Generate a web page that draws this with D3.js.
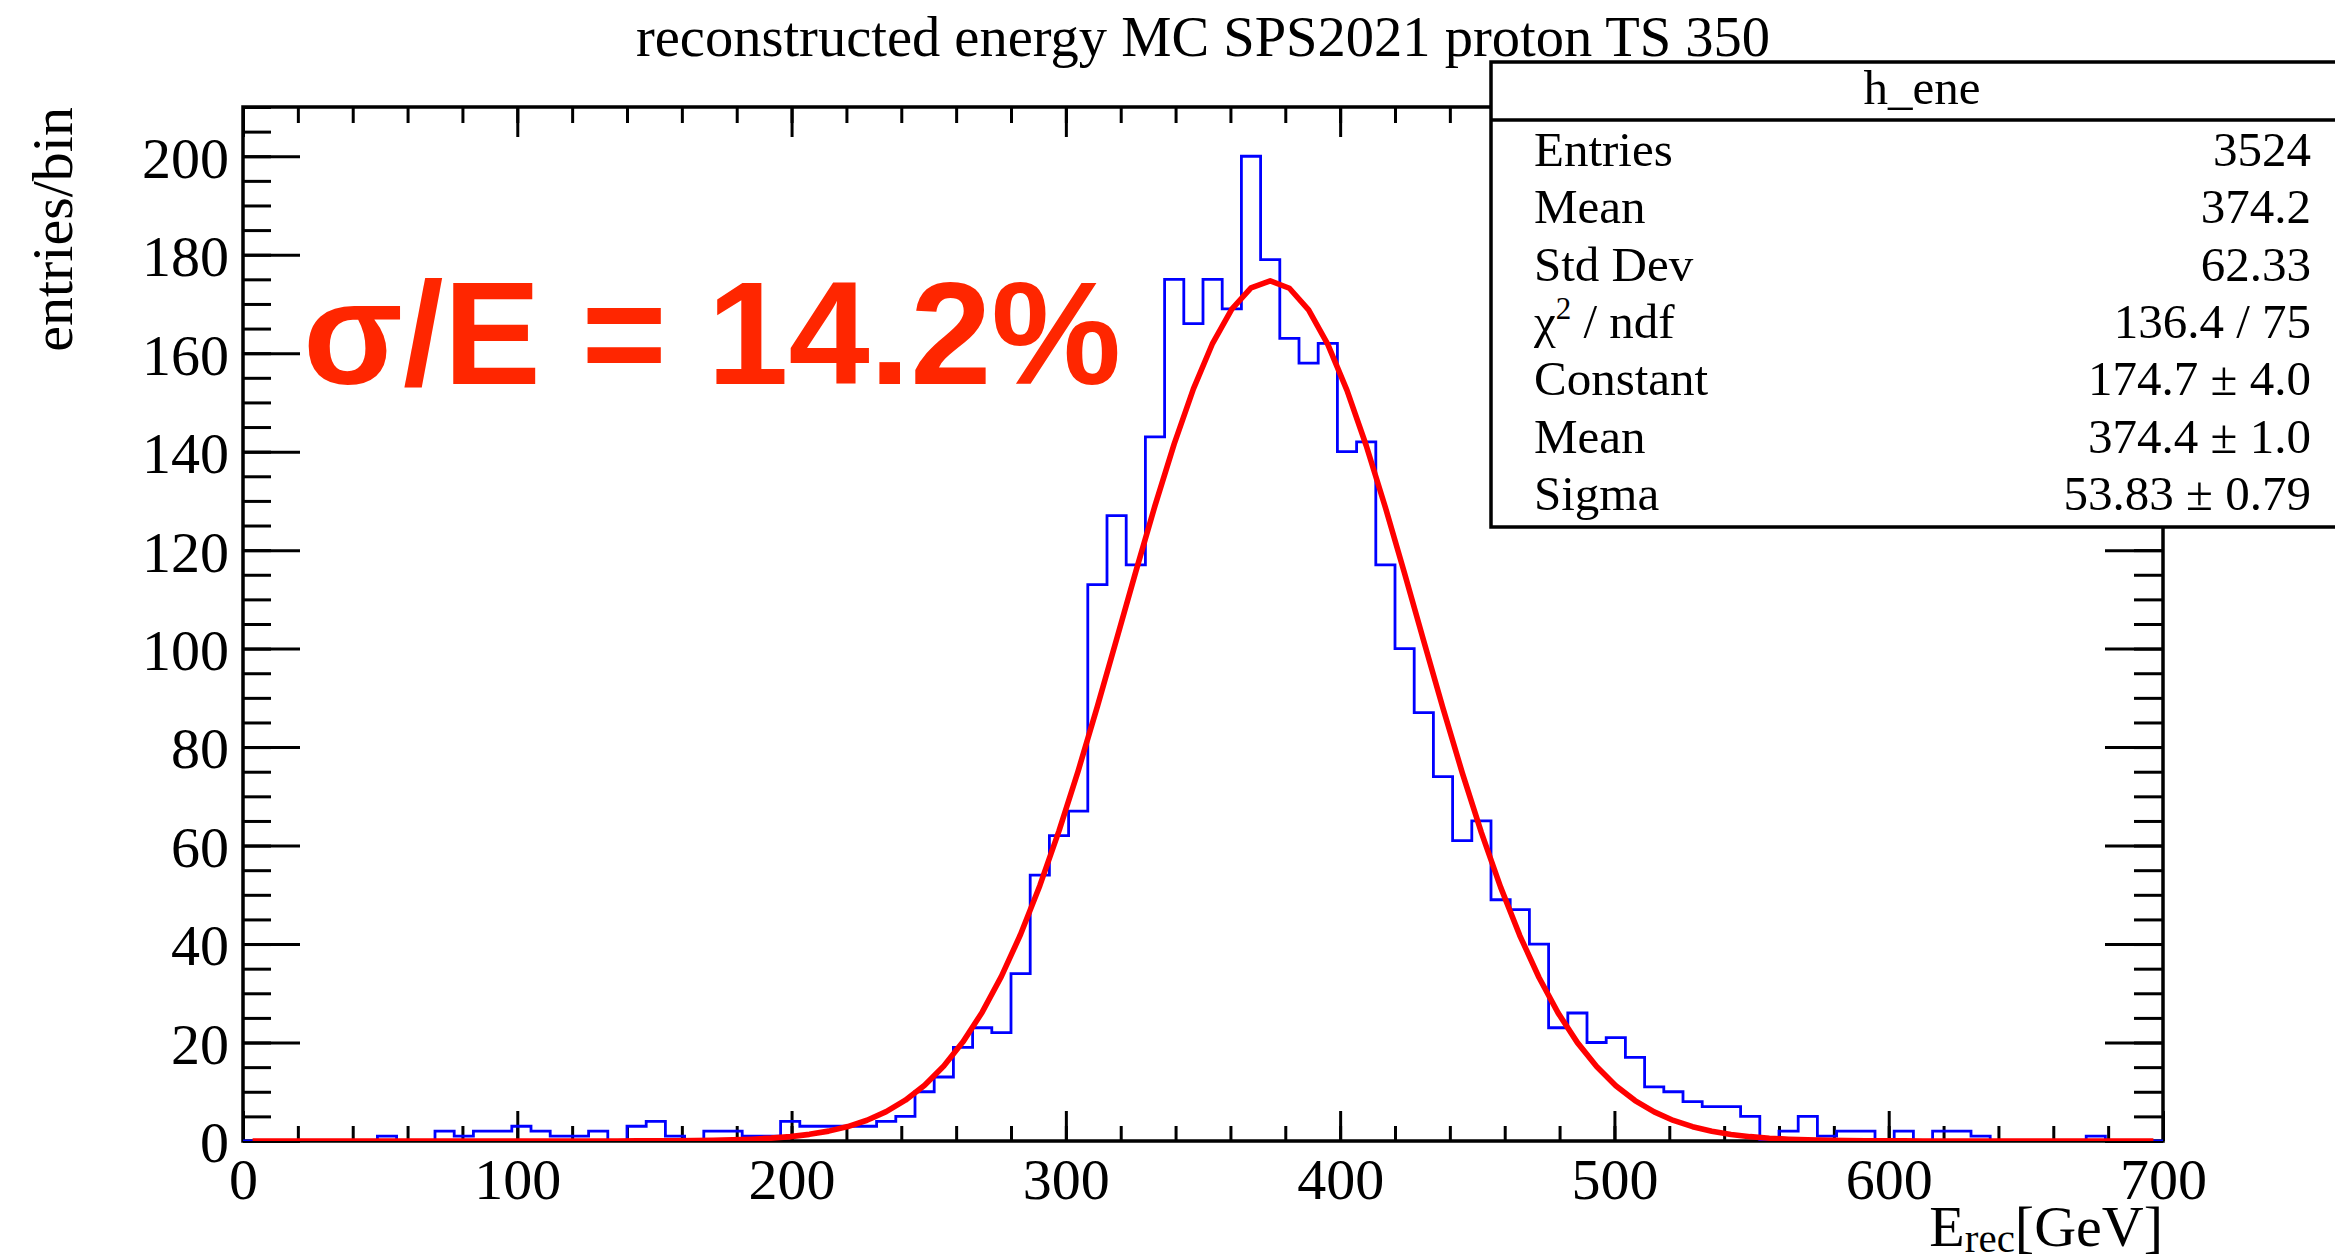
<!DOCTYPE html>
<html>
<head>
<meta charset="utf-8">
<script src="https://cdn.jsdelivr.net/npm/d3@7"></script>
<style>
  body { margin: 0; background: #fff; }
  svg { display: block; }
  .tick line { stroke: #000; stroke-width: 3; }
</style>
</head>
<body>
<script>
// h_ene: 100 bins, 0 - 700 GeV
var binLow = 0, binHigh = 700, binWidth = 7;
var binCounts = [
  0, 0, 0, 0, 0, 0, 0, 1, 0, 0,
  2, 1, 2, 2, 3, 2, 1, 1, 2, 0,
  3, 4, 1, 0, 2, 2, 1, 1, 4, 3,
  3, 3, 3, 4, 5, 10, 13, 19, 23, 22,
  34, 54, 62, 67, 113, 127, 117, 143, 175, 166,
  175, 169, 200, 179, 163, 158, 162, 140, 142, 117,
  100, 87, 74, 61, 65, 49, 47, 40, 23, 26,
  20, 21, 17, 11, 10, 8, 7, 7, 5, 0,
  2, 5, 1, 2, 2, 0, 2, 0, 2, 2,
  1, 0, 0, 0, 0, 0, 1, 0, 0, 0
];

// gaus fit parameters (from the stats box)
var fitConstant = 174.7, fitMean = 374.4, fitSigma = 53.83;

var xTicks = [0, 100, 200, 300, 400, 500, 600, 700];
var yTicks = [0, 20, 40, 60, 80, 100, 120, 140, 160, 180, 200];
var yMax = 210;

var titleText = "reconstructed energy MC SPS2021 proton TS 350";
var statsName = "h_ene";
var statLabels = ["Entries", "Mean", "Std Dev", "chi2", "Constant", "Mean", "Sigma"];
var statValues = ["3524", "374.2", "62.33", "136.4 / 75", "174.7 \u00b1 4.0", "374.4 \u00b1 1.0", "53.83 \u00b1 0.79"];
var resolutionText = "\u03c3/E = 14.2%";

var width = 2335, height = 1260;
var serif = "'Liberation Serif', 'Times New Roman', serif";

var svg = d3.select("body").append("svg")
    .attr("width", width)
    .attr("height", height)
    .style("font-family", serif);

var x = d3.scaleLinear().domain([binLow, binHigh]).range([243, 2163]);
var y = d3.scaleLinear().domain([0, yMax]).range([1141, 107]);

var x0 = x.range()[0], x1 = x.range()[1];
var y0 = y.range()[0], y1 = y.range()[1];

svg.append("clipPath").attr("id", "frame-clip")
  .append("rect")
    .attr("x", x0).attr("y", y1)
    .attr("width", x1 - x0).attr("height", y0 - y1);

// minor ticks every 20 GeV / 5 entries
var xMinor = d3.range(binLow, binHigh + 1, 20);
var yMinor = d3.range(0, yMax + 1, 5);

function axisGroup(tx, ty) {
  return svg.append("g")
    .attr("transform", "translate(" + tx + "," + ty + ")");
}

// bottom
axisGroup(0, y0).call(d3.axisBottom(x).tickValues(xMinor).tickSize(-15).tickFormat(""));
var xAxisG = axisGroup(0, y0).call(d3.axisBottom(x).tickValues(xTicks).tickSize(-30));
xAxisG.attr("font-family", serif).attr("font-size", 58);
xAxisG.selectAll("text").attr("y", 58).attr("dy", null).attr("fill", "#000");
// top
axisGroup(0, y1).call(d3.axisTop(x).tickValues(xMinor).tickSize(-16).tickFormat(""));
axisGroup(0, y1).call(d3.axisTop(x).tickValues(xTicks).tickSize(-30).tickFormat(""));
// left
axisGroup(x0, 0).call(d3.axisLeft(y).tickValues(yMinor).tickSize(-28).tickFormat(""));
var yAxisG = axisGroup(x0, 0).call(d3.axisLeft(y).tickValues(yTicks).tickSize(-57).tickPadding(14));
yAxisG.attr("font-family", serif).attr("font-size", 58);
yAxisG.selectAll("text").attr("dy", "0.36em").attr("fill", "#000");
// right
axisGroup(x1, 0).call(d3.axisRight(y).tickValues(yMinor).tickSize(-29).tickFormat(""));
axisGroup(x1, 0).call(d3.axisRight(y).tickValues(yTicks).tickSize(-58).tickFormat(""));

svg.selectAll(".domain").remove();

// frame
svg.append("rect")
    .attr("x", x0).attr("y", y1)
    .attr("width", x1 - x0).attr("height", y0 - y1)
    .attr("fill", "none")
    .attr("stroke", "#000")
    .attr("stroke-width", 3.5);

// histogram outline
var hp = d3.path();
hp.moveTo(x(binLow), y(0));
binCounts.forEach(function(c, i) {
  hp.lineTo(x(binLow + i * binWidth), y(c));
  hp.lineTo(x(binLow + (i + 1) * binWidth), y(c));
});
hp.lineTo(x(binHigh), y(0));

svg.append("path")
    .attr("d", hp.toString())
    .attr("clip-path", "url(#frame-clip)")
    .attr("fill", "none")
    .attr("stroke", "#0000ff")
    .attr("stroke-width", 2.8);

// gaussian fit, sampled at the bin centres like ROOT does
var fitPoints = binCounts.map(function(c, i) {
  var e = binLow + (i + 0.5) * binWidth;
  var t = (e - fitMean) / fitSigma;
  return [e, fitConstant * Math.exp(-0.5 * t * t)];
});

svg.append("path")
    .datum(fitPoints)
    .attr("d", d3.line().x(function(d) { return x(d[0]); }).y(function(d) { return y(d[1]); }))
    .attr("clip-path", "url(#frame-clip)")
    .attr("fill", "none")
    .attr("stroke", "#ff0000")
    .attr("stroke-width", 5.6)
    .attr("stroke-linejoin", "round");

// title
svg.append("text")
    .attr("x", 1203).attr("y", 56)
    .attr("text-anchor", "middle")
    .attr("font-size", 56.5)
    .text(titleText);

// axis titles
svg.append("text")
    .attr("transform", "translate(72," + y1 + ") rotate(-90)")
    .attr("text-anchor", "end")
    .attr("font-size", 58)
    .text("entries/bin");

var xt = svg.append("text")
    .attr("x", x1).attr("y", 1246)
    .attr("text-anchor", "end")
    .attr("font-size", 58);
xt.append("tspan").text("E");
xt.append("tspan").attr("font-size", 41).attr("dy", 6).text("rec");
xt.append("tspan").attr("dy", -6).text("[GeV]");

// resolution label
svg.append("text")
    .attr("x", 303).attr("y", 384)
    .attr("font-family", "'Liberation Sans', Arial, sans-serif")
    .attr("font-weight", "bold")
    .attr("font-size", 146)
    .attr("fill", "#ff2600")
    .text(resolutionText);

// stats box
var box = svg.append("g");
box.append("rect")
    .attr("x", 1491).attr("y", 62)
    .attr("width", 862).attr("height", 465)
    .attr("fill", "#fff")
    .attr("stroke", "#000")
    .attr("stroke-width", 3.5);
box.append("line")
    .attr("x1", 1491).attr("x2", 2353)
    .attr("y1", 120).attr("y2", 120)
    .attr("stroke", "#000")
    .attr("stroke-width", 3.5);
box.append("text")
    .attr("x", 1922).attr("y", 104)
    .attr("text-anchor", "middle")
    .attr("font-size", 49)
    .text(statsName);

statLabels.forEach(function(lab, i) {
  var by = 166 + i * 57.3;
  var t = box.append("text")
      .attr("x", 1534).attr("y", by)
      .attr("font-size", 49);
  if (lab === "chi2") {
    t.append("tspan").text("\u03c7");
    t.append("tspan").attr("font-size", 31).attr("dy", -19).text("2");
    t.append("tspan").attr("dy", 19).text(" / ndf");
  } else {
    t.text(lab);
  }
  box.append("text")
      .attr("x", 2311).attr("y", by)
      .attr("text-anchor", "end")
      .attr("font-size", 49)
      .text(statValues[i]);
});
</script>
</body>
</html>
